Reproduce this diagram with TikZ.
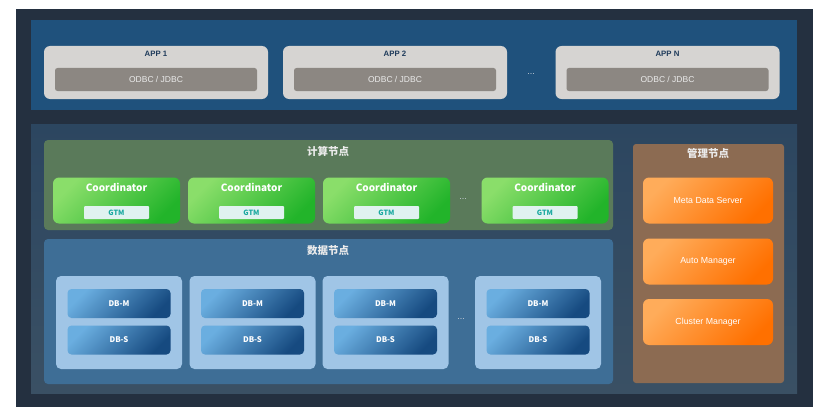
\documentclass[tikz,border=0pt]{standalone}
\usepackage{fontspec}
\setmainfont{Liberation Sans}
\newfontfamily\cjk{Noto Sans CJK SC}
\usetikzlibrary{positioning}
\definecolor{framecol}{RGB}{36,48,64}
\definecolor{bandcol}{RGB}{31,81,124}
\definecolor{lowtop}{RGB}{44,70,96}
\definecolor{lowbot}{RGB}{58,80,100}
\definecolor{computecol}{RGB}{90,122,90}
\definecolor{datacol}{RGB}{62,110,150}
\definecolor{groupcol}{RGB}{160,197,230}
\definecolor{mgmtcol}{RGB}{140,107,82}
\definecolor{appcol}{RGB}{214,212,210}
\definecolor{odbccol}{RGB}{140,135,130}
\definecolor{apptext}{RGB}{30,58,90}
\definecolor{gtmfill}{RGB}{224,242,240}
\definecolor{gtmtext}{RGB}{26,168,160}
\definecolor{greenlt}{RGB}{138,222,106}
\definecolor{greendk}{RGB}{34,180,42}
\definecolor{bluelt}{RGB}{106,174,224}
\definecolor{bluedk}{RGB}{22,74,128}
\definecolor{orangelt}{RGB}{255,172,90}
\definecolor{orangedk}{RGB}{255,112,0}
\definecolor{dotcol}{RGB}{200,208,216}
\tikzset{
  panel/.style={rectangle,inner sep=0pt,draw=none},
  appbox/.style={panel,fill=appcol,rounded corners=6pt,minimum width=224pt,minimum height=53pt},
  apptitle/.style={inner sep=0pt,text=apptext,font=\fontsize{7.8}{9}\selectfont\bfseries},
  odbc/.style={panel,fill=odbccol,rounded corners=2.5pt,minimum width=202pt,minimum height=23pt,
               text=white!92!black,font=\fontsize{8.5}{10}\selectfont},
  grouptitle/.style={inner sep=0pt,text=white!92!black,font=\cjk\fontsize{10.5}{12}\selectfont\bfseries},
  coordbox/.style={panel,rounded corners=6pt,minimum width=127pt,minimum height=46pt,
               top color=greenlt,bottom color=greendk,shading angle=45},
  coordtitle/.style={inner sep=0pt,text=white,font=\cjk\fontsize{10}{12}\selectfont\bfseries},
  gtm/.style={panel,fill=gtmfill,rounded corners=1pt,minimum width=65pt,minimum height=13pt,
               text=gtmtext,font=\cjk\fontsize{7.2}{8}\selectfont\bfseries},
  dbgroup/.style={panel,fill=groupcol,rounded corners=5pt,minimum width=126pt,minimum height=93pt},
  dbbox/.style={panel,rounded corners=4pt,minimum width=103pt,minimum height=29pt,
               top color=bluelt,bottom color=bluedk,shading angle=45,
               text=white,font=\cjk\fontsize{7.8}{9}\selectfont\bfseries},
  orangebox/.style={panel,rounded corners=6pt,minimum width=130pt,minimum height=46pt,
               top color=orangelt,bottom color=orangedk,shading angle=45,
               text=white,font=\fontsize{8.8}{10}\selectfont},
  dots/.style={inner sep=0pt,text=dotcol,font=\fontsize{9}{10}\selectfont},
}
\begin{document}
\begin{tikzpicture}[x=1pt,y=-1pt]
  \useasboundingbox (0,0) rectangle (830,420);
  \fill[white] (0,0) rectangle (830,420);
  % frame and layers
  \node[panel,fill=framecol,minimum width=797pt,minimum height=398pt] (frame) at (414.5,208) {};
  \node[panel,fill=bandcol,minimum width=766pt,minimum height=90pt] (band) at (414,65) {};
  \node[panel,top color=lowtop,bottom color=lowbot,minimum width=766pt,minimum height=269pt] (low) at (414,258.5) {};
  % applications
  \foreach \n/\x/\t in {a1/156/APP 1,a2/395/APP 2,aN/667.5/APP N}{
    \node[appbox] (\n) at (\x,72.5) {};
    \node[apptitle] (\n-t) at (\x,54) {\t};
    \node[odbc] (\n-d) at (\x,79.5) {ODBC / JDBC};}
  \node[dots] (adots) at (531,74) {...};
  % compute nodes
  \node[panel,fill=computecol,rounded corners=4pt,minimum width=569pt,minimum height=90pt] (compute) at (328.5,185) {};
  \node[grouptitle] (compute-t) at (328,151) {计算节点};
  \foreach \n/\x in {c1/116.5,c2/251.5,c3/386.5,cN/545}{
    \node[coordbox] (\n) at (\x,200.5) {};
    \node[coordtitle] (\n-t) at (\x,187) {Coordinator};
    \node[gtm] (\n-g) at (\x,212.5) {GTM};}
  \node[dots] (cdots) at (463,199) {...};
  % data nodes
  \node[panel,fill=datacol,rounded corners=4pt,minimum width=569pt,minimum height=145pt] (data) at (328.5,311.5) {};
  \node[grouptitle] (data-t) at (328,251) {数据节点};
  \foreach \n/\x in {g1/119,g2/252.5,g3/385.5,gN/538}{
    \node[dbgroup] (\n) at (\x,322.5) {};
    \node[dbbox] (\n-m) at (\x,303.5) {DB-M};
    \node[dbbox] (\n-s) at (\x,340) {DB-S};}
  \node[dots] (gdots) at (461,319) {...};
  % management nodes
  \node[panel,fill=mgmtcol,rounded corners=3pt,minimum width=151pt,minimum height=239pt] (mgmt) at (708.5,263.5) {};
  \node[grouptitle] (mgmt-t) at (708,153) {管理节点};
  \node[orangebox] (mds) at (708,200.5) {Meta Data Server};
  \node[orangebox] (auto) at (708,261.5) {Auto Manager};
  \node[orangebox] (cluster) at (708,322) {Cluster Manager};
\end{tikzpicture}
\end{document}
